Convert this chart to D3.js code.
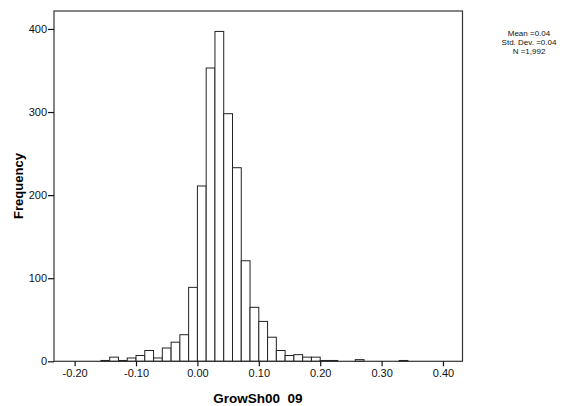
<!DOCTYPE html>
<html>
<head>
<meta charset="utf-8">
<script src="https://cdn.jsdelivr.net/npm/d3@7"></script>
<style>
  body { margin: 0; background: #fff; }
  svg { display: block; font-family: "Liberation Sans", Arial, sans-serif; }
</style>
</head>
<body>
<svg id="drawing_region"></svg>
<script>
// lower bin edges (bin width 0.1/7) and counts
const binLeft = [-0.15714, -0.14286, -0.12857, -0.11429, -0.1, -0.08571, -0.07143, -0.05714,
                 -0.04286, -0.02857, -0.01429, 0, 0.01429, 0.02857, 0.04286, 0.05714, 0.07143,
                 0.08571, 0.1, 0.11429, 0.12857, 0.14286, 0.15714, 0.17143, 0.18571, 0.2,
                 0.21429, 0.25714, 0.32857];
const counts  = [1, 5, 1, 4, 7, 13, 4, 16,
                 23, 32, 89, 211, 353, 397, 298, 233, 121,
                 65, 48, 29, 13, 7, 8, 5, 5, 1,
                 1, 2, 1];
const binWidth = 0.1 / 7;

const xTicks = [-0.2, -0.1, 0, 0.1, 0.2, 0.3, 0.4];
const yTicks = [0, 100, 200, 300, 400];
const statLines = ["Mean =0.04", "Std. Dev. =0.04", "N =1,992"];

const config = {
    width: 574,
    height: 406,
    margin: {top: 11, right: 111.5, bottom: 44.7, left: 54}
};

const svg = d3.select('#drawing_region')
    .attr('width', config.width)
    .attr('height', config.height);

const inner_width = config.width - config.margin.left - config.margin.right;
const inner_height = config.height - config.margin.top - config.margin.bottom;

const chart = svg.append('g')
    .attr('transform', `translate(${config.margin.left}, ${config.margin.top})`);

const xscale = d3.scaleLinear()
    .domain([-0.2336, 0.4318])
    .range([0, inner_width]);

const yscale = d3.scaleLinear()
    .domain([0, 421.6])
    .range([inner_height, 0]);

// bars
const bins = binLeft.map((b, i) => ({x0: b, x1: b + binWidth, n: counts[i]}));
chart.selectAll('rect.bar')
    .data(bins)
    .enter()
    .append('rect')
    .attr('class', 'bar')
    .attr('x', d => xscale(d.x0))
    .attr('y', d => yscale(d.n))
    .attr('width', d => xscale(d.x1) - xscale(d.x0))
    .attr('height', d => yscale(0) - yscale(d.n))
    .attr('fill', '#fff')
    .attr('stroke', '#222')
    .attr('stroke-width', 1);

// frame
chart.append('rect')
    .attr('x', 0)
    .attr('y', 0)
    .attr('width', inner_width)
    .attr('height', inner_height)
    .attr('fill', 'none')
    .attr('stroke', '#333')
    .attr('stroke-width', 1.2);

// plain hyphen for negatives, as in the original
const fmt = d3.format('.2f');
const xaxis = d3.axisBottom(xscale)
    .tickValues(xTicks)
    .tickSize(5)
    .tickSizeOuter(0)
    .tickFormat(d => fmt(d).replace('\u2212', '-'));

const yaxis = d3.axisLeft(yscale)
    .tickValues(yTicks)
    .tickSize(6)
    .tickSizeOuter(0)
    .tickFormat(d3.format('d'));

const xaxis_group = chart.append('g')
    .attr('transform', `translate(0, ${inner_height})`)
    .call(xaxis);

const yaxis_group = chart.append('g')
    .call(yaxis);

[xaxis_group, yaxis_group].forEach(g => {
    g.select('.domain').remove();
    g.selectAll('.tick line').attr('stroke', '#111').attr('stroke-width', 1.2);
    g.selectAll('.tick text')
        .attr('fill', '#111')
        .attr('font-size', '11px')
        .attr('font-family', '"Liberation Sans", Arial, sans-serif');
});
xaxis_group.selectAll('.tick text').attr('dy', '0.75em').attr('y', 7);
yaxis_group.selectAll('.tick text').attr('x', -7);

// axis titles
svg.append('text')
    .attr('x', 258)
    .attr('y', 403)
    .attr('text-anchor', 'middle')
    .attr('font-size', '13.5px')
    .attr('font-weight', 'bold')
    .style('white-space', 'pre')
    .text('GrowSh00  09');

svg.append('text')
    .attr('transform', 'translate(23, 186) rotate(-90)')
    .attr('text-anchor', 'middle')
    .attr('font-size', '13px')
    .attr('font-weight', 'bold')
    .text('Frequency');

// summary statistics
svg.append('g')
    .selectAll('text')
    .data(statLines)
    .enter()
    .append('text')
    .attr('x', 529)
    .attr('y', (d, i) => 36 + i * 9)
    .attr('text-anchor', 'middle')
    .attr('font-size', '8px')
    .attr('fill', '#111')
    .text(d => d);
</script>
</body>
</html>
